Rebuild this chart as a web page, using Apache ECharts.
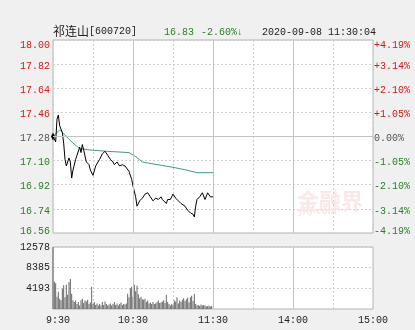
<!DOCTYPE html>
<html>
<head>
<meta charset="utf-8">
<script src="https://cdn.jsdelivr.net/npm/echarts@6/dist/echarts.min.js"></script>
<style>
html,body{margin:0;padding:0;background:#f1f0f0;}
#c{width:415px;height:330px;}
</style>
</head>
<body>
<div id="c"></div>
<script>
// ---- data ----
var timeLabels = {0:'9:30', 60:'10:30', 120:'11:30', 180:'14:00', 240:'15:00'};
var priceTicks = ['16.56','16.74','16.92','17.10','17.28','17.46','17.64','17.82','18.00'];
var pctTicks = ['-4.19%','-3.14%','-2.10%','-1.05%','0.00%','+1.05%','+2.10%','+3.14%','+4.19%'];
var prevClose = 17.28;
// [minute since 9:30, price]
var priceLine = [
 [0,17.28],[2,17.24],[3,17.41],[4,17.44],[5,17.36],[7,17.31],[8,17.23],[9,17.11],[10,17.06],
 [12,17.12],[13,17.09],[14,16.97],[15,17.03],[17,17.11],[18,17.14],[20,17.20],[21,17.16],
 [22,17.22],[23,17.18],[25,17.09],[27,17.07],[28,17.03],[30,16.99],[32,17.06],[35,17.11],
 [37,17.15],[39,17.17],[41,17.14],[43,17.11],[45,17.09],[46,17.07],[48,17.09],[50,17.06],
 [52,17.07],[54,17.06],[55,17.07],[57,17.02],[59,16.96],[60,16.91],[62,16.83],[63,16.76],
 [65,16.80],[67,16.82],[69,16.85],[71,16.86],[73,16.83],[75,16.80],[77,16.82],[79,16.81],
 [81,16.83],[82,16.81],[85,16.78],[86,16.81],[88,16.81],[90,16.85],[92,16.82],[94,16.80],
 [96,16.78],[99,16.76],[101,16.73],[103,16.71],[105,16.70],[106,16.68],[107,16.76],
 [108,16.81],[110,16.83],[112,16.86],[114,16.81],[116,16.86],[117,16.87],[118,16.83],[120,16.83]
];
var avgLine = [
 [0,17.28],[5,17.33],[10,17.28],[15,17.23],[20,17.19],[27,17.18],[40,17.17],[57,17.16],
 [62,17.13],[67,17.09],[78,17.07],[90,17.05],[100,17.03],[108,17.01],[120,17.01]
];
var volumes = [
 12578,5600,5200,2500,3500,2100,1800,4100,4800,2400,4900,2900,5500,6100,3100,1800,1400,1700,1000,1400,
 700,1800,2100,1200,1700,1500,1900,1000,1300,4500,1000,1400,800,1100,700,1000,700,1400,800,1500,
 1000,700,900,1100,700,1000,1400,800,1100,700,1000,1300,800,1000,900,1100,3100,2400,4200,4500,
 2500,4900,3600,4700,3000,2200,2500,2000,1900,2100,1400,1700,1100,1300,1000,1400,1000,1100,1400,1700,
 1200,1300,1500,1800,1200,2900,1400,1000,700,1000,800,1700,1500,2400,1100,1700,1400,1900,2200,1600,
 2000,2300,1300,2400,2700,1600,3100,1000,700,800,600,900,700,800,700,500,600,700,500,600
];
var volMax = 12578;

var RED = '#d01818', GREEN = '#2a7f2a', GRAY = '#555555';
var MONO = '"Liberation Mono", monospace';
var FS = 10;

var volData = volumes.map(function (v, i) { return [i, v]; });
var priceData = priceLine.map(function (p, i) {
  return i === 0 ? {value: p, symbol: 'diamond', symbolSize: [4, 8]} : {value: p};
});

function tickStyle(i) { return i > 4 ? 'r' : (i < 4 ? 'g' : 'n'); }
function tickRich() {
  return {
    rT: {color: RED, fontFamily: MONO, fontSize: FS, padding: [10, 0, 0, 0]},
    rM: {color: RED, fontFamily: MONO, fontSize: FS, padding: [4, 0, 0, 0]},
    nM: {color: GRAY, fontFamily: MONO, fontSize: FS, padding: [4, 0, 0, 0]},
    gM: {color: GREEN, fontFamily: MONO, fontSize: FS, padding: [4, 0, 0, 0]},
    gB: {color: GREEN, fontFamily: MONO, fontSize: FS, padding: [0, 0, 3, 0]}
  };
}
function tickFmt(list, i) {
  var s = tickStyle(i);
  if (i === 8) s += 'T'; else if (i === 0) s += 'B'; else s += 'M';
  return '{' + s + '|' + list[i] + '}';
}

var chart = echarts.init(document.getElementById('c'), null, {renderer: 'canvas'});
var dashed = {show: true, lineStyle: {color: '#cfcfcf', type: [2, 2], width: 1}};
var solidLine = {color: '#c4c4c4', type: 'solid', width: 1};

chart.setOption({
  animation: false,
  backgroundColor: '#f1f0f0',
  grid: [
    {left: 53, top: 40, width: 320, height: 193, show: true, backgroundColor: '#ffffff', borderColor: '#b4b4b4', borderWidth: 1},
    {left: 53, top: 247, width: 320, height: 62, show: true, backgroundColor: '#ffffff', borderColor: '#b4b4b4', borderWidth: 1}
  ],
  xAxis: [
    {type: 'value', gridIndex: 0, min: 0, max: 240, interval: 30,
     axisLine: {show: false}, axisTick: {show: false}, axisLabel: {show: false}, splitLine: dashed},
    {type: 'value', gridIndex: 1, min: 0, max: 240, interval: 30,
     axisLine: {show: false}, axisTick: {show: false}, splitLine: dashed,
     axisLabel: {show: true, margin: 6, color: '#222', fontFamily: MONO, fontSize: FS,
       formatter: function (v) {
         if (v === 0) return '{a|' + timeLabels[0] + '}';
         return timeLabels[v] || '';
       },
       rich: {a: {color: '#222', fontFamily: MONO, fontSize: FS, padding: [0, 0, 0, 10]}}}}
  ],
  yAxis: [
    {type: 'value', gridIndex: 0, min: 16.56, max: 18.00, interval: 0.18, position: 'left',
     axisLine: {show: false}, axisTick: {show: false}, splitLine: dashed,
     axisLabel: {margin: 3, formatter: function (v) {
        return tickFmt(priceTicks, Math.round((v - 16.56) / 0.18));
      }, rich: tickRich()}},
    {type: 'value', gridIndex: 0, min: 0, max: 8, interval: 1, position: 'right',
     axisLine: {show: false}, axisTick: {show: false}, splitLine: {show: false},
     axisLabel: {margin: 1, formatter: function (v) {
        return tickFmt(pctTicks, Math.round(v));
      }, rich: tickRich()}},
    {type: 'value', gridIndex: 1, min: 0, max: volMax, interval: volMax / 3, position: 'left',
     axisLine: {show: false}, axisTick: {show: false}, splitLine: dashed,
     axisLabel: {margin: 3, color: '#222', fontFamily: MONO, fontSize: FS, padding: [3, 0, 0, 0],
       formatter: function (v) { return v <= 0 ? '' : String(Math.round(v)); }}}
  ],
  series: [
    {type: 'line', name: 'avg', xAxisIndex: 0, yAxisIndex: 0, data: avgLine, symbol: 'none',
     lineStyle: {color: '#45978f', width: 1}, z: 3,
     markLine: {silent: true, symbol: 'none', label: {show: false}, lineStyle: solidLine,
       data: [{xAxis: 60}, {xAxis: 120}, {xAxis: 180}, {yAxis: prevClose}]}},
    {type: 'line', name: 'price', xAxisIndex: 0, yAxisIndex: 0, data: priceData,
     showSymbol: true, symbol: 'none', itemStyle: {color: '#000'},
     lineStyle: {color: '#000000', width: 1}, z: 4},
    {type: 'bar', name: 'vol', xAxisIndex: 1, yAxisIndex: 2, data: volData, barWidth: 1,
     itemStyle: {color: '#666666'}, z: 3,
     markLine: {silent: true, symbol: 'none', label: {show: false}, lineStyle: solidLine,
       data: [{xAxis: 60}, {xAxis: 120}, {xAxis: 180}]}}
  ],
  graphic: [
    {type: 'text', left: 53, top: 25, style: {
      text: '{c|祁连山}{a|[600720]}',
      rich: {c: {fill: '#222', font: '12px "Noto Sans CJK SC"'}, a: {fill: '#222', font: '10px "Liberation Mono"'}}}},
    {type: 'text', left: 164, top: 27, style: {text: '16.83', fill: GREEN, font: '10px "Liberation Mono"'}},
    {type: 'text', left: 201, top: 27, style: {text: '-2.60%↓', fill: GREEN, font: '10px "Liberation Mono", "DejaVu Sans"'}},
    {type: 'text', left: 262, top: 27, style: {text: '2020-09-08 11:30:04', fill: '#222', font: '10px "Liberation Mono"'}},
    {type: 'text', left: 297, top: 190, z: 1, style: {text: '金融界', fill: '#f8e8e8', font: 'bold 22px "Noto Sans CJK SC"'}},
    {type: 'text', left: 299, top: 207, z: 1, style: {text: 'JRJ.com', fill: '#f6e8e8', font: 'bold 9px "DejaVu Sans"'}}
  ]
});
</script>
</body>
</html>
